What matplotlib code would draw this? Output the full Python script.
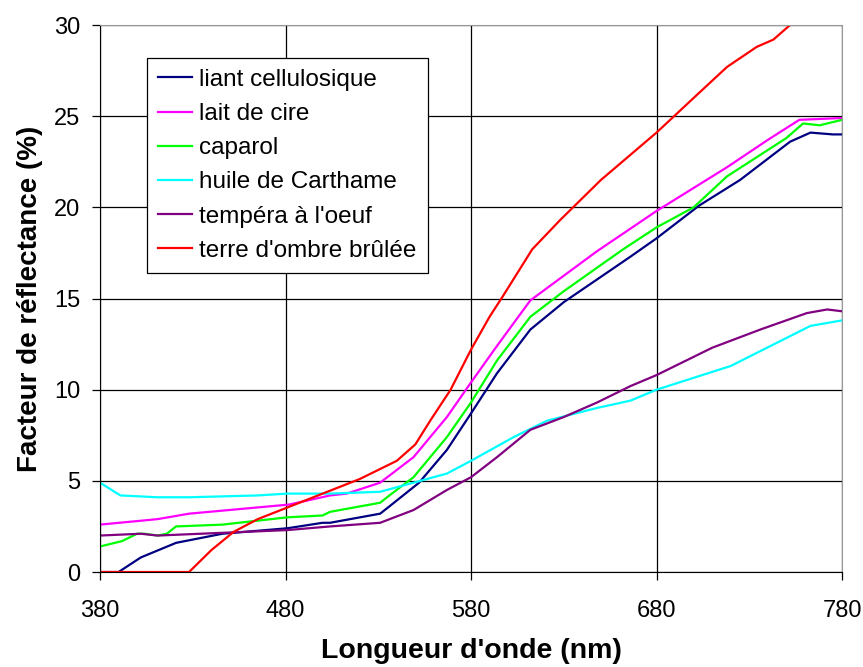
import numpy as np
import matplotlib
matplotlib.use("Agg")
import matplotlib.pyplot as plt

plt.rcParams['font.family'] = ['Liberation Sans', 'DejaVu Sans']

# wavelength (nm) / reflectance (%)
liant_x = [380, 390, 402, 421, 446, 481, 500, 504, 531, 536, 552, 567, 580, 594, 612,
           630, 666, 680, 703, 725, 752, 763, 775, 780]
liant_y = [0.0, 0.0, 0.8, 1.6, 2.1, 2.4, 2.7, 2.7, 3.2, 3.6, 4.9, 6.7, 8.7, 10.9, 13.3,
           14.8, 17.3, 18.3, 20.1, 21.5, 23.6, 24.1, 24.0, 24.0]

lait_x = [380, 411, 428, 482, 504, 513, 531, 549, 567, 580, 594, 612, 628, 648, 680,
          718, 740, 757, 780]
lait_y = [2.6, 2.9, 3.2, 3.7, 4.2, 4.3, 4.9, 6.3, 8.5, 10.4, 12.4, 14.9, 16.1, 17.6, 19.8,
          22.2, 23.7, 24.8, 24.9]

caparol_x = [380, 392, 400, 404, 411, 416, 421, 446, 481, 500, 504, 531, 536, 549, 567,
             580, 594, 612, 630, 662, 680, 700, 718, 750, 759, 768, 780]
caparol_y = [1.4, 1.7, 2.1, 2.1, 2.0, 2.1, 2.5, 2.6, 3.0, 3.1, 3.3, 3.8, 4.2, 5.2, 7.4,
             9.3, 11.6, 14.0, 15.4, 17.7, 18.9, 20.0, 21.7, 23.8, 24.6, 24.5, 24.8]

huile_x = [380, 391, 411, 428, 465, 481, 504, 531, 549, 567, 580, 603, 621, 648, 666,
           680, 720, 763, 780]
huile_y = [4.9, 4.2, 4.1, 4.1, 4.2, 4.3, 4.3, 4.4, 4.9, 5.4, 6.1, 7.4, 8.3, 9.0, 9.4,
           10.0, 11.3, 13.5, 13.8]

tempera_x = [380, 402, 411, 481, 504, 531, 549, 567, 580, 594, 612, 630, 648, 666, 680,
             710, 736, 761, 772, 780]
tempera_y = [2.0, 2.1, 2.0, 2.3, 2.5, 2.7, 3.4, 4.5, 5.2, 6.3, 7.8, 8.5, 9.3, 10.2, 10.8,
             12.3, 13.3, 14.2, 14.4, 14.3]

terre_x = [380, 428, 440, 452, 465, 480, 500, 520, 540, 550, 558, 569, 580, 590, 597,
           613, 628, 650, 680, 700, 718, 734, 743, 752, 770, 780]
terre_y = [0.0, 0.0, 1.2, 2.2, 2.9, 3.5, 4.3, 5.1, 6.1, 7.0, 8.3, 10.0, 12.2, 14.0, 15.1,
           17.7, 19.3, 21.5, 24.1, 26.0, 27.7, 28.8, 29.2, 30.0, 31.5, 32.5]

series = [
    ("liant cellulosique", liant_x, liant_y, "#000080"),
    ("lait de cire", lait_x, lait_y, "#FF00FF"),
    ("caparol", caparol_x, caparol_y, "#00FF00"),
    ("huile de Carthame", huile_x, huile_y, "#00FFFF"),
    ("tempéra à l'oeuf", tempera_x, tempera_y, "#800080"),
    ("terre d'ombre brûlée", terre_x, terre_y, "#FF0000"),
]

fig = plt.figure(figsize=(8.63, 6.67), dpi=100)
ax = fig.add_axes([0.1159, 0.1424, 0.8598, 0.8201])

for name, x, y, c in series:
    ax.plot(x, y, color=c, lw=1.6, label=name)

ax.set_xlim(380, 780)
ax.set_ylim(0, 30)
ax.set_xticks(np.arange(380, 781, 100))
ax.set_yticks(np.arange(0, 31, 5))
ax.grid(True, color="black", lw=0.9)
ax.set_axisbelow(True)

for s in ["top", "right"]:
    ax.spines[s].set_color("#999999")
for s in ["left", "bottom"]:
    ax.spines[s].set_color("black")
ax.tick_params(direction="out", length=6, width=0.9, labelsize=17)
ax.tick_params(axis="y", pad=8)
ax.tick_params(axis="x", pad=14)

ax.set_xlabel("Longueur d'onde (nm)", fontsize=20.5, fontweight="bold", labelpad=12)
ax.set_ylabel("Facteur de réflectance (%)", fontsize=20, fontweight="bold", labelpad=8)

lgd = ax.legend(loc="upper left", bbox_to_anchor=(0.0633, 0.9397), fontsize=17.5,
                frameon=True, fancybox=False, edgecolor="black", framealpha=1,
                handlelength=1.4, handletextpad=0.3, labelspacing=0.5,
                borderpad=0.45, borderaxespad=0)
lgd.get_frame().set_linewidth(0.9)

fig.savefig("out.png", dpi=100)
